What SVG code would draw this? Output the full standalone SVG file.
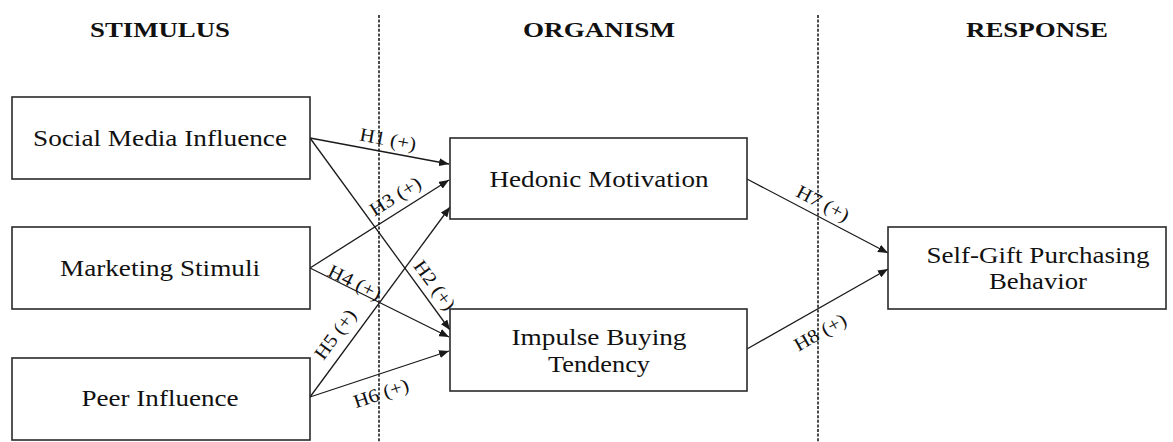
<svg xmlns="http://www.w3.org/2000/svg" width="1173" height="442" viewBox="0 0 1173 442">
  <style>
    .box { fill: #ffffff; stroke: #2a2a2a; stroke-width: 1.6; }
    .lbl { font-family: "Liberation Serif", "Times New Roman", serif; font-size: 24px; fill: #111; text-anchor: middle; }
    .title { font-family: "Liberation Serif", "Times New Roman", serif; font-size: 21px; font-weight: bold; fill: #111; text-anchor: middle; }
    .hyp { font-family: "Liberation Serif", "Times New Roman", serif; font-size: 19px; fill: #111; text-anchor: middle; }
    .edge { stroke: #1a1a1a; stroke-width: 1.3; fill: none; marker-end: url(#arrow); }
    .divider { stroke: #111; stroke-width: 1.5; stroke-dasharray: 3 1.6; }
  </style>
  <defs>
    <marker id="arrow" markerUnits="userSpaceOnUse" markerWidth="10" markerHeight="8" refX="10" refY="4" orient="auto">
      <path d="M0,0 L10,4 L0,8 z" fill="#1a1a1a"/>
    </marker>
  </defs>

  <rect width="1173" height="442" fill="#ffffff"/>

  <!-- column titles -->
  <g id="titles">
    <text class="title" x="160" y="37" textLength="140" lengthAdjust="spacingAndGlyphs">STIMULUS</text>
    <text class="title" x="599" y="37" textLength="152" lengthAdjust="spacingAndGlyphs">ORGANISM</text>
    <text class="title" x="1037" y="37" textLength="142" lengthAdjust="spacingAndGlyphs">RESPONSE</text>
  </g>

  <!-- stage dividers -->
  <g id="dividers">
    <line class="divider" x1="379" y1="15" x2="379" y2="442"/>
    <line class="divider" x1="818" y1="15" x2="818" y2="442"/>
  </g>

  <!-- hypothesised paths -->
  <g id="connectors">
    <line class="edge" x1="310" y1="138" x2="449" y2="164"/>
    <line class="edge" x1="310" y1="138" x2="450" y2="330"/>
    <line class="edge" x1="310" y1="268" x2="449" y2="180"/>
    <line class="edge" x1="310" y1="268" x2="449" y2="337"/>
    <line class="edge" x1="310" y1="397" x2="450" y2="207"/>
    <line class="edge" x1="310" y1="397" x2="449" y2="351"/>
    <line class="edge" x1="747" y1="179" x2="888" y2="253"/>
    <line class="edge" x1="747" y1="349" x2="888" y2="269"/>

    <g transform="translate(388,139) rotate(10.6)"><text class="hyp" dy="0.35em" textLength="57" lengthAdjust="spacingAndGlyphs">H1 (+)</text></g>
    <g transform="translate(435,285) rotate(53.9)"><text class="hyp" dy="0.35em" textLength="57" lengthAdjust="spacingAndGlyphs">H2 (+)</text></g>
    <g transform="translate(395,196) rotate(-32.3)"><text class="hyp" dy="0.35em" textLength="57" lengthAdjust="spacingAndGlyphs">H3 (+)</text></g>
    <g transform="translate(355,282) rotate(26.6)"><text class="hyp" dy="0.35em" textLength="57" lengthAdjust="spacingAndGlyphs">H4 (+)</text></g>
    <g transform="translate(335,334) rotate(-53.6)"><text class="hyp" dy="0.35em" textLength="57" lengthAdjust="spacingAndGlyphs">H5 (+)</text></g>
    <g transform="translate(381,393) rotate(-18.4)"><text class="hyp" dy="0.35em" textLength="57" lengthAdjust="spacingAndGlyphs">H6 (+)</text></g>
    <g transform="translate(823,203) rotate(27.7)"><text class="hyp" dy="0.35em" textLength="57" lengthAdjust="spacingAndGlyphs">H7 (+)</text></g>
    <g transform="translate(820,332) rotate(-29.6)"><text class="hyp" dy="0.35em" textLength="57" lengthAdjust="spacingAndGlyphs">H8 (+)</text></g>
  </g>

  <!-- stimulus constructs -->
  <g id="social-media-influence">
    <rect class="box" x="12" y="97" width="298" height="82"/>
    <text class="lbl" x="160" y="146" textLength="254" lengthAdjust="spacingAndGlyphs">Social Media Influence</text>
  </g>
  <g id="marketing-stimuli">
    <rect class="box" x="12" y="227" width="298" height="82"/>
    <text class="lbl" x="160" y="276" textLength="200" lengthAdjust="spacingAndGlyphs">Marketing Stimuli</text>
  </g>
  <g id="peer-influence">
    <rect class="box" x="12" y="358" width="298" height="82"/>
    <text class="lbl" x="160" y="406" textLength="157" lengthAdjust="spacingAndGlyphs">Peer Influence</text>
  </g>

  <!-- organism constructs -->
  <g id="hedonic-motivation">
    <rect class="box" x="450" y="138" width="297" height="81"/>
    <text class="lbl" x="599" y="187" textLength="219" lengthAdjust="spacingAndGlyphs">Hedonic Motivation</text>
  </g>
  <g id="impulse-buying-tendency">
    <rect class="box" x="450" y="309" width="297" height="82"/>
    <text class="lbl" x="599" y="345" textLength="175" lengthAdjust="spacingAndGlyphs">Impulse Buying</text>
    <text class="lbl" x="599" y="372" textLength="102" lengthAdjust="spacingAndGlyphs">Tendency</text>
  </g>

  <!-- response construct -->
  <g id="self-gift-purchasing-behavior">
    <rect class="box" x="888" y="227" width="278" height="82"/>
    <text class="lbl" x="1038" y="263" textLength="223" lengthAdjust="spacingAndGlyphs">Self-Gift Purchasing</text>
    <text class="lbl" x="1038" y="289" textLength="98" lengthAdjust="spacingAndGlyphs">Behavior</text>
  </g>
</svg>
